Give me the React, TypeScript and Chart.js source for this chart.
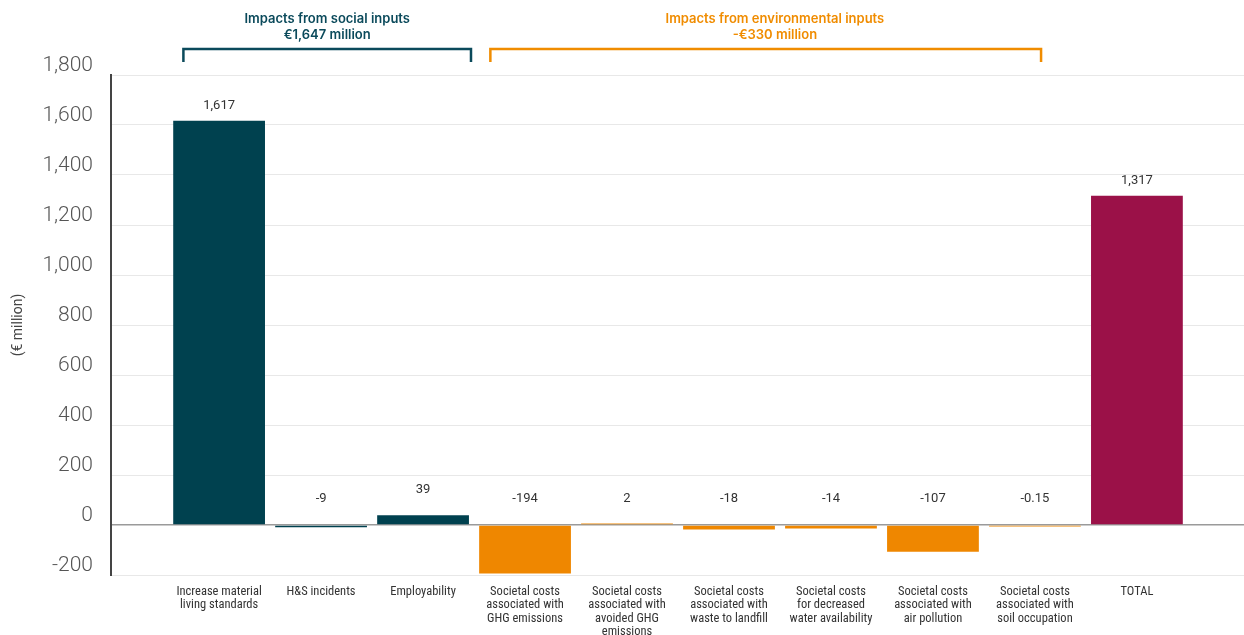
import React, { useEffect, useRef } from "react";
import { Chart, registerables } from "chart.js";

Chart.register(...registerables);

const categories: string[][] = [
  ["Increase material", "living standards"],
  ["H&S incidents"],
  ["Employability"],
  ["Societal costs", "associated with", "GHG emissions"],
  ["Societal costs", "associated with", "avoided GHG", "emissions"],
  ["Societal costs", "associated with", "waste to landfill"],
  ["Societal costs", "for decreased", "water availability"],
  ["Societal costs", "associated with", "air pollution"],
  ["Societal costs", "associated with", "soil occupation"],
  ["TOTAL"],
];
const values: number[] = [1617, -9, 39, -194, 2, -18, -14, -107, -0.15, 1317];
const barGroups: string[] = ["social", "social", "social", "env", "env", "env", "env", "env", "env", "total"];

const groupTitles: string[] = ["Impacts from social inputs", "Impacts from environmental inputs"];
const groupTotals: string[] = ["€1,647 million", "-€330 million"];
const groupKeys: string[] = ["social", "env"];
const groupFrom: number[] = [-0.35, 2.66];
const groupTo: number[] = [2.47, 8.06];
const groupTextAt: number[] = [1.06, 5.45];

const yTicks: number[] = [-200, 0, 200, 400, 600, 800, 1000, 1200, 1400, 1600, 1800];

const COLORS: Record<string, string> = {
  social: "#00414F",
  env: "#EF8700",
  total: "#9B1148",
};
const TEXT_COLORS: Record<string, string> = {
  social: "#0B4A5B",
  env: "#F08C00",
};

const fmt = (v: number) => v.toLocaleString("en-US", { maximumFractionDigits: 2 });

const overlayPlugin = {
  id: "overlay",
  afterDatasetsDraw(chart: any) {
    const { ctx } = chart;
    const x = chart.scales.x;
    const y = chart.scales.y;
    ctx.save();
    ctx.font = "13px Roboto, 'DejaVu Sans', sans-serif";
    ctx.fillStyle = "#333";
    ctx.textAlign = "center";
    ctx.textBaseline = "middle";
    values.forEach((v, i) => {
      const px = x.getPixelForValue(i);
      const top = y.getPixelForValue(Math.max(v, 0));
      const off = v > 100 ? 15 : 26;
      ctx.fillText(fmt(v), px, top - off);
    });
    groupKeys.forEach((k, gi) => {
      const x1 = x.getPixelForValue(groupFrom[gi]);
      const x2 = x.getPixelForValue(groupTo[gi]);
      const color = TEXT_COLORS[k];
      ctx.strokeStyle = color;
      ctx.lineWidth = 2.5;
      ctx.beginPath();
      ctx.moveTo(x1, 62);
      ctx.lineTo(x1, 49);
      ctx.lineTo(x2, 49);
      ctx.lineTo(x2, 62);
      ctx.stroke();
      ctx.fillStyle = color;
      ctx.font = "600 13px Inter, Roboto, sans-serif";
      const cx = x.getPixelForValue(groupTextAt[gi]);
      ctx.fillText(groupTitles[gi], cx, 19);
      ctx.fillText(groupTotals[gi], cx, 35);
    });
    ctx.restore();
  },
};

export default function App() {
  const ref = useRef<HTMLCanvasElement | null>(null);
  useEffect(() => {
    if (!ref.current) return;
    const chart = new Chart(ref.current, {
      type: "bar",
      data: {
        datasets: [
          {
            data: values.map((v, i) => ({ x: i, y: v })),
            backgroundColor: barGroups.map((g) => COLORS[g]),
            barPercentage: 0.9,
            categoryPercentage: 1,
            minBarLength: 1.5,
          },
        ],
      },
      options: {
        animation: false,
        responsive: false,
        maintainAspectRatio: false,
        layout: { padding: { top: 75, left: 0, right: 0, bottom: 0 } },
        plugins: {
          legend: { display: false },
          tooltip: { enabled: false },
        },
        scales: {
          x: {
            type: "linear",
            offset: false,
            min: -1.06,
            max: 10.05,
            grid: { display: false },
            border: { display: false },
            afterFit: (s: any) => {
              s.height = 60;
            },
            afterBuildTicks: (s: any) => {
              s.ticks = categories.map((_, i) => ({ value: i }));
            },
            ticks: {
              autoSkip: false,
              maxRotation: 0,
              padding: 2,
              color: "#333",
              font: { family: "'Liberation Sans Narrow', 'Roboto Condensed', Roboto, sans-serif", size: 12.5, lineHeight: 1.08 },
              callback: (v: any) => {
                const i = Math.round(Number(v));
                return categories[i] ?? "";
              },
            },
          },
          y: {
            min: -200,
            max: 1800,
            afterFit: (s: any) => {
              s.width = 111;
            },
            afterBuildTicks: (s: any) => {
              s.ticks = yTicks.map((v) => ({ value: v }));
            },
            border: { display: true, color: "#444", width: 2 },
            grid: {
              drawTicks: false,
              color: (c: any) => (c.tick && c.tick.value === 0 ? "#9a9a9a" : "#e8e8e8"),
              lineWidth: (c: any) => (c.tick && c.tick.value === 0 ? 1.5 : 1),
            },
            ticks: {
              padding: 18,
              labelOffset: -9,
              color: "#555",
              font: { family: "Roboto, 'Noto Sans', sans-serif", size: 21, weight: "300" as any },
              callback: (v: any) => Number(v).toLocaleString("en-US"),
            },
            title: {
              display: true,
              text: "(€ million)",
              color: "#444",
              font: { family: "Roboto, sans-serif", size: 14 },
              padding: { top: 10, bottom: 0 },
            },
          },
        },
      },
      plugins: [overlayPlugin],
    });
    return () => chart.destroy();
  }, []);
  return (
    <div style={{ position: "fixed", left: 0, top: 0, width: 1244, height: 635, background: "#fff" }}>
      <canvas ref={ref} width={1244} height={635} style={{ width: 1244, height: 635 }} />
    </div>
  );
}
